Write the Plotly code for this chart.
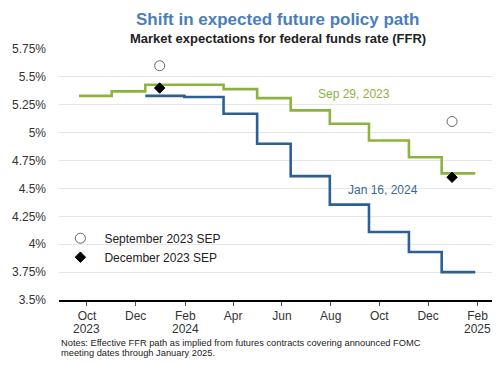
import plotly.graph_objects as go

# ---- data ----
sep_dates = ["2023-09-21", "2023-11-01", "2023-12-13", "2024-03-20", "2024-05-01",
             "2024-06-12", "2024-07-31", "2024-09-18", "2024-11-07", "2024-12-18", "2025-01-29"]
sep_values = [5.33, 5.37, 5.43, 5.39, 5.31, 5.20, 5.08, 4.93, 4.78, 4.635, 4.635]

jan_dates = ["2023-12-13", "2024-01-31", "2024-03-20", "2024-05-01", "2024-06-12",
             "2024-07-31", "2024-09-18", "2024-11-07", "2024-12-18", "2025-01-29"]
jan_values = [5.33, 5.32, 5.17, 4.90, 4.61, 4.355, 4.11, 3.93, 3.75, 3.75]

sep_sep_dates = ["2023-12-31", "2024-12-31"]
sep_sep_values = [5.60, 5.10]
dec_sep_dates = ["2023-12-31", "2024-12-31"]
dec_sep_values = [5.40, 4.60]

x_tickvals = ["2023-10-01", "2023-12-01", "2024-02-01", "2024-04-01", "2024-06-01",
              "2024-08-01", "2024-10-01", "2024-12-01", "2025-02-01"]
x_ticktext = ["Oct", "Dec", "Feb", "Apr", "Jun", "Aug", "Oct", "Dec", "Feb"]
year_dates = ["2023-10-01", "2024-02-01", "2025-02-01"]
year_labels = ["2023", "2024", "2025"]

y_tickvals = [3.5, 3.75, 4.0, 4.25, 4.5, 4.75, 5.0, 5.25, 5.5, 5.75]
y_ticktext = ["3.5%", "3.75%", "4%", "4.25%", "4.5%", "4.75%", "5%", "5.25%", "5.5%", "5.75%"]

GREEN = "#8DB33F"
BLUE = "#2C6092"
FONT = "Liberation Sans, Arial, sans-serif"

fig = go.Figure()
fig.add_trace(go.Scatter(x=sep_dates, y=sep_values, mode="lines", line_shape="hv",
                         line=dict(color=GREEN, width=2.6), showlegend=False, hoverinfo="skip"))
fig.add_trace(go.Scatter(x=jan_dates, y=jan_values, mode="lines", line_shape="hv",
                         line=dict(color=BLUE, width=2.6), showlegend=False, hoverinfo="skip"))
fig.add_trace(go.Scatter(x=sep_sep_dates, y=sep_sep_values, mode="markers",
                         name="September 2023 SEP",
                         marker=dict(symbol="circle", size=10, color="white",
                                     line=dict(color="#666666", width=1))))
fig.add_trace(go.Scatter(x=dec_sep_dates, y=dec_sep_values, mode="markers",
                         name="December 2023 SEP",
                         marker=dict(symbol="diamond", size=8, color="black",
                                     line=dict(color="black", width=1))))

annotations = [
    dict(text="<b>Shift in expected future policy path</b>", x=0.5, y=1.1635,
         xref="paper", yref="paper", xanchor="center", yanchor="top", showarrow=False,
         font=dict(family=FONT, size=17, color="#4A7EBB")),
    dict(text="<b>Market expectations for federal funds rate (FFR)</b>", x=0.5, y=1.041,
         xref="paper", yref="paper", xanchor="center", yanchor="middle", showarrow=False,
         font=dict(family=FONT, size=13, color="#222222")),
    dict(text="Sep 29, 2023", x="2024-08-30", y=5.35, xanchor="center", yanchor="middle",
         showarrow=False, font=dict(family=FONT, size=12, color=GREEN)),
    dict(text="Jan 16, 2024", x="2024-10-05", y=4.49, xanchor="center", yanchor="middle",
         showarrow=False, font=dict(family=FONT, size=12, color="#3C6896")),
    dict(text="Notes: Effective FFR path as implied from futures contracts covering announced FOMC",
         x=0, y=-0.173, xref="paper", yref="paper", xanchor="left", yanchor="middle",
         showarrow=False, font=dict(family=FONT, size=9.3, color="#222222")),
    dict(text="meeting dates through January 2025.",
         x=0, y=-0.212, xref="paper", yref="paper", xanchor="left", yanchor="middle",
         showarrow=False, font=dict(family=FONT, size=9.3, color="#222222")),
]
for d, lab in zip(year_dates, year_labels):
    annotations.append(dict(text=lab, x=d, y=-0.1174, xref="x", yref="paper",
                            xanchor="center", yanchor="middle", showarrow=False,
                            font=dict(family=FONT, size=12, color="#333333")))

# page body has an 8px default margin, so the figure is sized 8px smaller
fig.update_layout(
    width=492, height=357,
    margin=dict(l=51, r=4, t=41.3, b=64.5, pad=0),
    paper_bgcolor="white", plot_bgcolor="white",
    font=dict(family=FONT, size=12, color="#333333"),
    annotations=annotations,
    legend=dict(x=-0.006, y=0.304, xanchor="left", yanchor="top",
                bgcolor="rgba(0,0,0,0)", font=dict(family=FONT, size=12, color="#222222"),
                itemwidth=38, tracegroupgap=0),
    xaxis=dict(type="date", range=["2023-08-27", "2025-02-24"],
               tickvals=x_tickvals, ticktext=x_ticktext,
               showgrid=False, showline=True, linecolor="black", linewidth=2,
               ticks="outside", ticklen=4, tickwidth=1, tickcolor="#555555",
               tickfont=dict(family=FONT, size=12, color="#333333"), zeroline=False),
    yaxis=dict(range=[3.5, 5.75], tickvals=y_tickvals, ticktext=y_ticktext,
               showgrid=True, gridcolor="#E6E6E6", gridwidth=1, zeroline=False,
               showline=False, ticks="", ticklabelstandoff=12,
               tickfont=dict(family=FONT, size=12, color="#333333")),
)

fig.write_html("out.html")
